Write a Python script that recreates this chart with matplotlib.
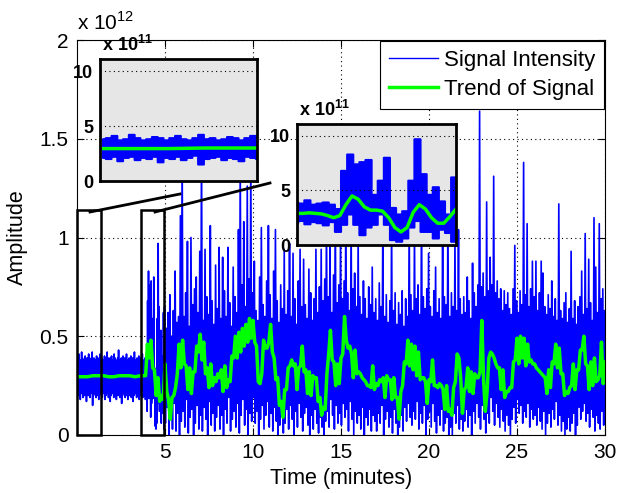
import numpy as np
import matplotlib
matplotlib.use('Agg')
import matplotlib.pyplot as plt
from matplotlib.patches import Rectangle
from matplotlib.lines import Line2D
from matplotlib.ticker import FuncFormatter

plt.rcParams['font.family'] = ['Liberation Sans', 'DejaVu Sans']
plt.rcParams['mathtext.fontset'] = 'custom'
plt.rcParams['mathtext.rm'] = 'Liberation Sans'
plt.rcParams['mathtext.bf'] = 'Liberation Sans:bold'

UNIT = 1e11  # all amplitude lists are in units of 1e11

# ----------- signal (blue): one high / low pair per bin ---------------#
# quiet baseline, 0 - 3.95 min, bins of 0.05 min
quiet_hi = [3.8, 3.9, 4.1, 3.7, 3.8, 4.2, 3.9, 3.7, 3.8, 4.0,
            3.9, 3.7, 3.9, 4.1, 3.8, 3.7, 3.9, 4.2, 3.8, 3.9,
            3.7, 3.8, 4.0, 3.9, 3.7, 3.9, 4.1, 3.8, 3.9, 3.7,
            3.8, 4.0, 3.9, 3.7, 4.2, 3.8, 3.9, 3.7, 3.9, 4.0,
            3.8, 3.7, 4.1, 3.9, 3.8, 3.7, 3.9, 4.3, 3.8, 3.7,
            3.9, 3.8, 4.0, 3.7, 3.9, 3.8, 4.1, 3.7, 3.8, 3.9,
            3.7, 4.0, 3.8, 3.9, 3.7, 4.2, 3.8, 3.7, 3.9, 3.8,
            4.0, 3.7, 3.9, 3.8, 4.1, 3.7, 3.8, 3.9, 3.7]
quiet_lo = [2.1, 2.0, 2.2, 1.8, 2.1, 2.2, 1.9, 2.1, 2.0, 2.2,
            1.7, 2.1, 2.0, 2.2, 1.9, 2.1, 2.3, 1.5, 2.0, 2.1,
            2.2, 1.9, 2.1, 2.0, 1.8, 2.2, 2.1, 2.0, 1.9, 2.1,
            2.2, 1.8, 2.0, 2.1, 2.2, 1.9, 2.1, 1.7, 2.0, 2.2,
            2.1, 1.9, 2.0, 2.2, 1.8, 2.1, 2.0, 2.2, 1.9, 2.1,
            1.6, 2.0, 2.2, 2.1, 1.9, 2.0, 2.2, 1.8, 2.1, 2.0,
            2.2, 1.9, 2.1, 1.7, 2.0, 2.2, 2.1, 1.9, 2.0, 2.2,
            1.8, 2.1, 2.0, 2.2, 1.9, 2.1, 2.0, 1.8, 2.1]

# onset, 3.95 - 4.95 min, bins of 0.05 min
onset_hi = [3.3, 6.8, 8.3, 7.4, 7.6, 7.8, 4.6, 5.9, 8.0, 3.4,
            2.8, 3.1, 5.9, 9.7, 6.5, 4.6, 5.3, 4.0, 2.8, 6.2]
onset_lo = [1.2, 1.85, 2.8, 1.85, 0.9, 1.6, 1.85, 2.8, 1.85, 0.45,
            0.3, 0.6, 1.6, 2.2, 1.2, 1.2, 0.6, 1.4, 1.1, 0.3]

# active part, 4.95 - 30 min, bins of 0.1 min
active_hi = [6.5, 5.4, 6.2, 7.1, 5.0, 6.3, 8.3, 5.7, 6.0, 11.1,
             14.5, 6.0, 7.2, 9.8, 5.5, 10.0, 6.6, 7.4, 8.0, 6.2,
             9.3, 15.0, 5.8, 9.4, 7.0, 6.1, 10.6, 6.8, 5.6, 8.6,
             6.4, 9.5, 5.9, 9.0, 7.3, 6.0, 9.5, 6.7, 5.5, 8.5,
             7.0, 6.2, 10.4, 14.0, 7.6, 10.8, 6.5, 12.6, 7.9, 14.0,
             7.2, 8.8, 6.3, 5.8, 8.0, 10.5, 6.6, 6.0, 7.8, 10.6,
             7.1, 5.9, 8.3, 10.4, 6.8, 5.7, 7.6, 6.4, 9.4, 6.1,
             7.3, 9.7, 6.0, 9.2, 6.9, 5.6, 7.8, 9.4, 6.5, 8.9,
             6.6, 5.9, 8.4, 7.2, 5.8, 6.9, 9.4, 6.2, 7.5, 9.4,
             6.8, 7.9, 11.0, 7.0, 10.0, 6.2, 8.1, 12.0, 6.7, 7.6,
             10.5, 6.9, 7.8, 12.0, 7.2, 6.3, 11.0, 7.4, 8.2, 6.5,
             10.0, 7.0, 6.1, 7.8, 6.9, 5.9, 7.5, 6.6, 8.5, 6.2,
             6.9, 5.8, 7.7, 6.5, 10.5, 6.0, 7.1, 5.7, 6.8, 11.0,
             6.3, 7.2, 5.6, 6.7, 6.1, 7.3, 5.5, 6.9, 6.0, 11.0,
             7.1, 6.3, 10.5, 6.9, 7.6, 6.1, 12.0, 7.0, 6.4, 7.4,
             9.2, 6.5, 6.0, 7.3, 8.5, 6.2, 6.9, 5.9, 10.5, 7.0,
             6.6, 11.5, 6.0, 7.2, 6.5, 10.0, 6.3, 10.4, 6.9, 6.1,
             7.0, 6.2, 8.0, 6.8, 5.9, 8.7, 7.2, 6.5, 7.6, 16.4,
             7.5, 8.2, 7.0, 11.8, 7.3, 9.0, 7.6, 13.1, 7.2, 7.8,
             6.9, 7.4, 6.3, 7.3, 6.6, 7.2, 6.4, 6.1, 7.4, 9.6,
             6.8, 6.2, 7.3, 6.6, 13.8, 7.1, 10.7, 6.5, 7.4, 8.8,
             7.0, 8.8, 6.3, 7.2, 8.8, 8.2, 6.5, 6.1, 7.1, 6.4,
             7.8, 6.0, 6.9, 5.8, 11.7, 6.3, 5.9, 6.7, 7.2, 5.7,
             6.4, 9.3, 5.9, 6.8, 5.6, 6.5, 7.0, 8.3, 6.1, 10.2,
             6.4, 8.9, 6.7, 5.8, 11.0, 8.5, 6.2, 10.7, 6.9, 7.4,
             6.3]
active_lo = [0.6, 1.4, 0.0, 0.9, 0.3, 1.6, 0.2, 1.1, 0.0, 0.7,
             1.2, 0.4, 1.8, 0.1, 0.9, 1.3, 0.0, 0.6, 1.5, 0.3,
             1.0, 0.2, 1.4, 0.8, 0.0, 1.7, 0.5, 1.1, 0.2, 0.9,
             1.5, 0.3, 1.0, 0.0, 1.3, 0.6, 1.9, 0.2, 0.8, 1.2,
             0.4, 1.6, 0.1, 1.0, 1.8, 0.5, 1.3, 0.0, 1.1, 0.7,
             1.9, 0.6, 1.2, 0.0, 0.8, 1.5, 0.3, 1.0, 1.7, 0.4,
             1.1, 0.2, 1.4, 0.7, 0.0, 0.5, 1.2, 0.1, 0.6, 1.3,
             0.3, 1.5, 0.8, 0.0, 1.2, 0.4, 1.6, 0.9, 0.2, 1.1,
             1.4, 0.5, 0.0, 1.0, 0.3, 1.3, 0.6, 0.1, 0.9, 0.4,
             0.0, 0.7, 1.2, 0.4, 1.8, 1.0, 0.3, 1.5, 0.6, 1.1,
             0.5, 1.6, 0.9, 1.3, 0.2, 1.7, 0.8, 0.0, 1.2, 0.6,
             1.0, 0.3, 1.4, 0.0, 0.9, 0.5, 1.3, 0.2, 1.0, 0.7,
             0.2, 1.1, 0.6, 1.5, 0.0, 0.8, 1.2, 0.4, 0.9, 0.1,
             1.3, 0.6, 0.0, 0.4, 1.0, 0.2, 1.4, 0.7, 1.6, 0.9,
             0.5, 1.2, 0.8, 1.7, 0.3, 1.1, 0.6, 1.5, 0.0, 0.8,
             1.2, 0.4, 1.6, 0.7, 0.1, 1.0, 0.5, 1.3, 0.2, 0.6,
             0.9, 0.0, 0.4, 0.0, 1.1, 0.6, 1.5, 0.3, 0.8, 0.2,
             0.7, 1.3, 0.4, 1.0, 0.0, 1.2, 0.6, 1.6, 0.9, 0.3,
             1.5, 0.8, 0.1, 1.1, 0.6, 1.9, 1.2, 0.5, 1.6, 0.9,
             0.4, 1.3, 0.7, 0.2, 1.0, 0.5, 0.0, 0.8, 1.4, 0.6,
             1.8, 1.1, 1.5, 0.6, 1.2, 0.9, 1.6, 0.4, 1.3, 0.8,
             1.0, 0.5, 1.4, 0.7, 0.3, 1.2, 0.0, 0.6, 1.1, 0.4,
             1.3, 0.8, 1.7, 0.5, 1.0, 0.2, 0.7, 0.0, 0.3, 0.9,
             0.2, 0.6, 1.1, 0.0, 0.5, 1.4, 0.8, 1.2, 1.6, 0.7,
             1.1, 0.4, 1.3, 0.9, 0.2, 1.0, 0.6, 0.3, 1.2, 0.5,
             0.9]

# ----------- trend (green) ---------------#
trend_quiet = [2.95, 2.95, 2.95, 3.0, 3.0, 3.0, 2.95, 2.95, 3.0, 3.0,
               3.0, 2.95, 3.0, 3.0]          # every 0.3 min from 0
trend_active = [4.6, 3.9, 4.8, 3.4, 3.3, 2.0, 2.9, 1.7, 2.0, 1.8,
                3.6, 2.2, 1.8, 0.8, 1.9, 2.0, 2.4, 3.1, 4.6, 3.4,
                4.8, 3.6, 3.5, 2.3, 3.4, 2.1, 3.2, 3.2, 4.5, 4.2,
                5.1, 3.8, 4.7, 3.1, 3.4, 2.4, 3.6, 2.5, 2.9, 2.7,
                3.1, 2.9, 3.3, 2.2, 3.5, 2.4, 2.8, 2.7, 4.0, 3.9,
                5.0, 3.9, 5.2, 4.2, 5.4, 4.5, 5.6, 4.7, 5.9, 4.9,
                5.8, 4.7, 4.5, 2.7, 2.6, 3.1, 4.8, 4.4, 4.4, 4.7,
                5.6, 4.2, 3.9, 2.8, 2.9, 1.5, 1.7, 0.9, 2.3, 2.3,
                3.4, 3.5, 3.8, 3.5, 3.6, 2.3, 3.4, 3.5, 4.5, 3.2,
                3.3, 2.1, 3.2, 2.0, 3.0, 2.9, 2.9, 1.7, 1.9, 1.0,
                1.4, 1.3, 3.1, 4.1, 5.3, 3.8, 3.7, 2.5, 3.6, 2.6,
                3.9, 4.1, 6.0, 4.8, 4.4, 4.5, 4.1, 2.9, 4.3, 3.1,
                3.2, 3.1, 2.9, 2.8, 2.7, 2.5, 2.5, 2.4, 3.5, 2.3,
                2.6, 2.5, 2.8, 2.7, 2.9, 1.9, 3.0, 2.8, 2.8, 1.8,
                2.9, 1.9, 1.9, 0.8, 2.2, 2.5, 3.7, 3.6, 4.8, 3.5,
                4.6, 3.3, 4.5, 3.0, 4.2, 2.8, 2.9, 2.9, 2.7, 1.6,
                2.8, 2.7, 3.8, 2.5, 2.5, 2.4, 2.6, 2.5, 2.3, 1.3,
                2.5, 1.2, 1.3, 1.0, 2.4, 2.7, 4.1, 3.9, 2.9, 1.1,
                2.3, 2.4, 3.4, 2.2, 3.2, 2.1, 3.1, 2.9, 2.9, 3.2,
                5.8, 2.8, 1.2, 2.2, 3.9, 4.2, 4.1, 3.9, 3.6, 3.4,
                3.4, 2.3, 3.3, 1.9, 2.2, 2.2, 2.4, 2.4, 3.7, 3.8,
                4.9, 3.6, 5.0, 3.9, 4.9, 3.5, 4.6, 3.7, 3.8, 3.6,
                3.6, 3.4, 3.3, 3.2, 3.1, 3.0, 2.9, 2.1, 3.3, 2.4,
                3.7, 3.6, 4.6, 3.4, 4.4, 3.1, 3.1, 2.0, 2.2, 2.1,
                2.4, 2.5, 3.6, 2.3, 3.3, 3.3, 4.3, 4.3, 5.0, 3.6,
                3.5, 2.3, 3.7, 2.5, 3.9, 2.7, 2.8, 3.0, 4.7, 2.6,
                3.7]                           # every 0.1 min from 4.0
# smoother trend drawn in the second zoom, every 0.05 min from 3.64
zoom_trend = [2.9, 2.9, 2.95, 2.9, 2.85, 2.7, 2.5, 2.7, 3.7, 4.5,
              4.2, 3.5, 3.2, 3.2, 3.1, 2.5, 1.6, 1.2, 1.6, 3.0,
              3.7, 3.3, 2.5, 2.0, 2.0, 2.6, 3.3]


segments = [(0.0, 0.05, quiet_hi, quiet_lo),
            (3.95, 0.05, onset_hi, onset_lo),
            (4.95, 0.1, active_hi, active_lo)]
bin_c = np.concatenate([t0 + step / 2 + step * np.arange(len(hi))
                        for t0, step, hi, lo in segments])
bin_w = np.concatenate([np.full(len(hi), step) for t0, step, hi, lo in segments])
bin_hi = np.concatenate([hi for t0, step, hi, lo in segments]) * UNIT
bin_lo = np.concatenate([lo for t0, step, hi, lo in segments]) * UNIT

# main trace: high then low inside every bin
sig_t = np.column_stack([bin_c - bin_w / 4, bin_c + bin_w / 4]).ravel()
sig_v = np.column_stack([bin_hi, bin_lo]).ravel()

trend_t = np.concatenate([0.3 * np.arange(len(trend_quiet)),
                          4.0 + 0.1 * np.arange(len(trend_active))])
trend_v = np.concatenate([trend_quiet, trend_active]) * UNIT
zoom_t = 3.64 + 0.05 * np.arange(len(zoom_trend))
zoom_v = np.array(zoom_trend) * UNIT

BLUE = (0, 0, 1)
GREEN = (0, 1, 0)
W, H = 618, 493

fig = plt.figure(figsize=(W / 100, H / 100), dpi=100)
ax = fig.add_axes([77 / W, 58 / H, 528 / W, 395 / H])
ax.plot(sig_t, sig_v, color=BLUE, lw=1.2, label='Signal Intensity')
ax.plot(trend_t, trend_v, color=GREEN, lw=2.5, label='Trend of Signal')
ax.set_xlim(0, 30)
ax.set_ylim(0, 2e12)
ax.set_xticks([5, 10, 15, 20, 25, 30])
ax.set_yticks([0, 0.5e12, 1e12, 1.5e12, 2e12])
ax.yaxis.set_major_formatter(FuncFormatter(lambda v, p: f'{v / 1e12:g}'))
ax.tick_params(direction='in', top=True, right=True, length=5, labelsize=15, pad=6)
ax.grid(True, color='black', linestyle=(0, (1, 3)), lw=0.8)
ax.set_xlabel('Time (minutes)', fontsize=15.5, labelpad=4)
ax.set_ylabel('Amplitude', fontsize=15.5, labelpad=8)
ax.text(0.0, 1.015, r'x 10$^{\mathregular{12}}$', transform=ax.transAxes,
        fontsize=15, va='bottom', ha='left')
leg = ax.legend(loc='upper right', fontsize=16, fancybox=False, framealpha=1,
                edgecolor='black', borderaxespad=0.05, handlelength=2.2,
                handletextpad=0.27, borderpad=0.4, labelspacing=0.35)
leg.get_frame().set_linewidth(0.8)
leg.get_lines()[0].set_linewidth(1.0)

# zoom boxes on the main plot
for x0, x1 in [(0.0, 1.36), (3.64, 4.94)]:
    ax.add_patch(Rectangle((x0, 0), x1 - x0, 1.14e12, fill=False,
                           ec='black', lw=1.8, clip_on=False, zorder=5))

# connector lines (figure pixels)
for (xa, ya), (xb, yb) in [((90, 212), (180, 194)), ((155, 212), (270, 183))]:
    fig.add_artist(Line2D([xa / W, xb / W], [1 - ya / H, 1 - yb / H],
                          color='black', lw=2.0))


def inset(rect_px, xlim, trend_x, trend_y):
    x, y, w, h = rect_px
    a = fig.add_axes([x / W, 1 - (y + h) / H, w / W, h / H], facecolor='#e6e6e6')
    a.fill_between(bin_c, bin_lo, bin_hi, step='mid', color=BLUE, lw=1.5)
    a.plot(trend_x, trend_y, color=GREEN, lw=2.5)
    a.set_xlim(*xlim)
    a.set_ylim(0, 11.1e11)
    a.set_xticks([])
    a.set_yticks([0, 5e11, 10e11])
    a.set_yticklabels(['0', '5', '10'], fontweight='bold', fontsize=13)
    a.tick_params(length=0, pad=5)
    a.grid(True, axis='y', color='black', linestyle=(0, (1, 3)), lw=0.8)
    for s in a.spines.values():
        s.set_linewidth(2.0)
    a.text(0.01, 1.03, r'x 10$^{\mathbf{11}}$', transform=a.transAxes,
           fontsize=13, fontweight='bold', va='bottom', ha='left')
    return a


inset((100, 59, 157, 122), (0, 1.36), trend_t, trend_v)
inset((297, 124, 159, 121), (3.64, 4.94), zoom_t, zoom_v)

fig.savefig('out.png', dpi=100)
